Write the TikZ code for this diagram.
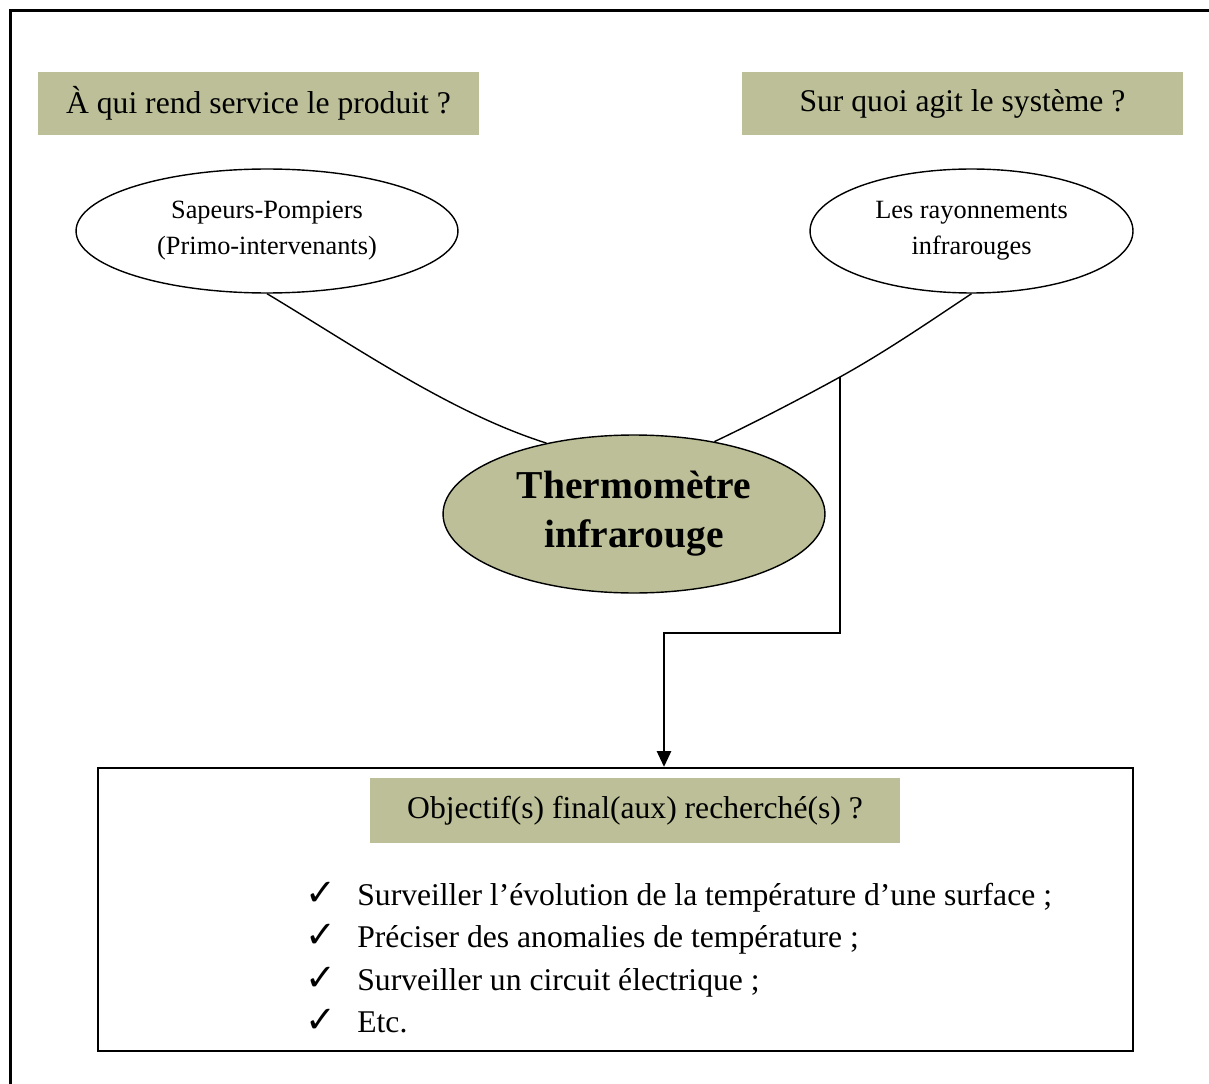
\documentclass[tikz,border=0pt]{standalone}
\usepackage{fontspec}
\setmainfont{Liberation Serif}
\newfontfamily\checkfont{DejaVu Sans}
\usepackage{xcolor}
\definecolor{colQuest}{HTML}{BCBF97}
\usepackage{tikz}
\usetikzlibrary{arrows.meta, shapes.geometric, calc}

\begin{document}
\begin{tikzpicture}[x=0.02cm, y=-0.02cm, >={Triangle[length=9pt,width=8pt]},
		quest/.style={fill=colQuest, minimum width=8.82cm, minimum height=1.26cm, inner sep=0pt, font=\fontsize{18}{22}\selectfont},
		actor/.style={ellipse, draw, line width=0.8pt, inner sep=0pt, minimum height=2.48cm, align=center, font=\fontsize{15}{20.5}\selectfont},
		link/.style={line width=0.8pt},
		conn/.style={line width=1.4pt}]
	\useasboundingbox (0,0) rectangle (1209,1084);
	\draw[line width=2.2pt] (10.5,1100) -- (10.5,10.5) -- (1225,10.5);
	\node[quest] (qwho) at (258.5,103.5) {À qui rend service le produit ?};
	\node[quest] (qwhat) at (962.5,103.5) {Sur quoi agit le système ?};
	\node[actor, minimum width=7.64cm] (sap) at (267,231) {Sapeurs-Pompiers\\(Primo-intervenants)};
	\node[actor, minimum width=6.46cm] (ray) at (971.5,231) {Les rayonnements\\infrarouges};
	\node[ellipse, draw, fill=colQuest, line width=0.8pt, minimum width=7.64cm, minimum height=3.16cm, inner sep=0pt, align=center,
		font=\fontsize{22.5}{28}\selectfont\bfseries] (thermo) at (634,514) {Thermomètre\\infrarouge};
	\coordinate (j) at (840,377);
	\coordinate (elbow) at (664,633);
	\draw[link] (sap.south) .. controls ($(sap.south)+(90,54)$) and ($(thermo.141)+(-95,-30)$) .. (thermo.141);
	\draw[link] (ray.south) .. controls ($(ray.south)+(-45,30)$) and ($(j)+(45,-25)$) .. (j)
		.. controls ($(j)+(-40,22)$) and ($(thermo.42)+(40,-19)$) .. (thermo.42);
	\node[draw, line width=1.3pt, minimum width=20.7cm, minimum height=5.66cm, inner sep=0pt] (goal) at (615.5,909.5) {};
	\draw[conn, ->] (j) |- (elbow) -- (elbow |- goal.north);
	\node[quest, minimum width=10.6cm, minimum height=1.3cm] (qgoal) at (635,810.5) {Objectif(s) final(aux) recherché(s) ?};
	\foreach \txt [count=\i] in {Surveiller l’évolution de la température d’une surface ;, Préciser des anomalies de température ;, Surveiller un circuit électrique ;, Etc.}{
		\node[anchor=base, inner sep=0pt, font=\checkfont\fontsize{21}{24}\selectfont] (tick\i) at (321,{905+42.5*(\i-1)}) {✓};
		\node[anchor=base west, inner sep=0pt, font=\fontsize{18}{22}\selectfont] (item\i) at (357,{905+42.5*(\i-1)}) {\txt};
	}
\end{tikzpicture}
\end{document}
